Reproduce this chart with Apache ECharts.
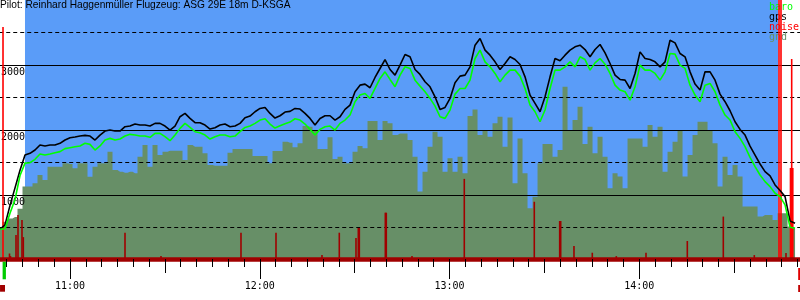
<!DOCTYPE html>
<html><head><meta charset="utf-8">
<script src="https://cdn.jsdelivr.net/npm/echarts@6/dist/echarts.min.js"></script>
<style>html,body{margin:0;padding:0;background:#fff}#c{width:800px;height:300px}</style>
</head><body><div id="c"></div>
<script>
// ---- data (times in minutes since midnight) ----
const titleText = 'Pilot: Reinhard Haggenmüller Flugzeug: ASG 29E 18m D-KSGA';
const startMin = 637.87;   // first logger sample
const stepMin = 1.5809;    // sampling interval (min)
const gps = [474,540,840,1110,1380,1615,1641,1692,1769,1754,1769,1769,1795,1846,1882,1892,1907,1917,1907,1846,1922,1984,1999,1984,1984,2051,2061,2092,2076,2076,2061,2102,2102,2061,1999,2061,2204,2255,2178,2112,
2112,2076,2015,2035,2076,2092,2051,2061,2102,2189,2214,2281,2332,2347,2255,2184,2219,2276,2286,2332,2322,2255,2178,2076,2178,2219,2219,2153,2204,2317,2383,2588,2690,2706,2650,2808,2946,3084,2931,2844,
2998,3162,3126,2931,2855,2742,2665,2511,2317,2347,2486,2726,2829,2844,2972,3305,3407,3228,3151,3049,2931,3023,3126,3084,3008,2818,2537,2409,2281,2511,2818,3100,3064,3151,3228,3279,3305,3238,3126,3238,
3315,3187,3023,2844,2778,2767,2639,2870,3202,3100,3084,3049,2972,3049,3381,3341,3177,3126,2895,2706,2614,2895,2895,2767,2552,2435,2296,2127,2009,1922,1753,1615,1477,1359,1293,1155,1068,975,600,566];
const baro = [474,480,720,930,1300,1490,1497,1549,1631,1615,1631,1651,1667,1713,1728,1743,1754,1795,1779,1692,1754,1846,1871,1846,1861,1907,1933,1922,1907,1907,1887,1948,1948,1897,1836,1922,2025,2102,2040,1974,
1958,1923,1861,1897,1923,1923,1897,1907,1974,2040,2061,2102,2153,2173,2092,2030,2066,2097,2122,2173,2153,2092,2010,1923,2010,2051,2061,1999,2102,2153,2230,2435,2537,2562,2486,2640,2793,2895,2778,2665,
2845,2973,2947,2767,2675,2588,2486,2368,2204,2179,2307,2552,2639,2639,2767,3100,3228,3049,2972,2870,2742,2844,2921,2921,2829,2639,2383,2281,2127,2307,2639,2921,2921,2972,3049,2972,3126,3084,2921,3033,
3100,3013,2870,2690,2614,2588,2460,2665,2998,2921,2921,2870,2767,2895,3177,3167,2998,2947,2690,2537,2435,2690,2716,2588,2383,2230,2153,1974,1871,1743,1580,1436,1308,1206,1129,1027,975,847,504,489];
const gnd = [474,590,640,660,790,1129,1129,1180,1308,1231,1436,1436,1436,1487,1477,1410,1487,1487,1282,1436,1487,1487,1667,1385,1359,1344,1359,1334,1590,1769,1436,1769,1615,1667,1682,1682,1682,1539,1769,1743,
1743,1641,1462,1451,1451,1451,1651,1707,1707,1707,1707,1600,1600,1600,1487,1677,1677,1820,1805,1733,1795,2061,2051,2000,1707,1707,1887,1554,1590,1487,1487,1667,1754,1718,2138,2138,1846,2138,2102,1923,
1948,1948,1846,1590,1052,1359,1743,1974,1897,1359,1564,1359,1590,1334,2214,2317,1923,2000,1897,2102,2204,1743,2194,1180,1871,1334,796,975,1487,1784,1784,1590,1692,2665,2000,2153,2358,1784,2051,1641,
1897,1590,1103,1334,1283,1103,1871,1871,1871,1743,2076,1897,2051,1359,1667,1820,1999,1283,1615,1923,2127,2127,1999,1795,1129,1590,1308,1462,1283,822,822,822,668,694,694,617,719,719,515,489];
const noiseTimes = [638.82,640.87,641.19,642.93,643.56,644.82,645.24,677.39,688.77,714.06,725.13,739.67,745.14,750.42,751.15,751.47,759.69,760.00,768.13,784.66,806.79,814.82,815.14,819.34,825.13,832.72,842.11,855.17,866.55,876.35,884.16,884.79,886.37,887.79,888.17,888.52];
const noiseValues = [896,25,15,96,173,154,88,105,15,105,105,19,105,85,123,123,182,182,15,312,224,150,150,54,28,15,28,73,167,19,1000,1000,27,354,773,354];
const taskStart = 645.77, taskEnd = 883.93;
// [time, row, kind]
const events = [[639.2,0,0],[638.7,1,1],[890.7,0,2],[890.7,1,3]];
const yLabelValues = [1000,2000,3000];

// ---- layout helpers ----
const X_MIN = 600, X_MAX = 900;
const pxPerMin = 3.16294;
const gridLeft = 70 - (660 - X_MIN) * pxPerMin;
const gridWidth = (X_MAX - X_MIN) * pxPerMin;
const FONT = 'DejaVu Sans Mono';
const tOf = i => startMin + i * stepMin;
const pairs = arr => arr.map((v, i) => [tOf(i), v]);
const fmtTime = v => { const h = Math.floor(v / 60), m = Math.round(v % 60); return h + ':' + String(m).padStart(2, '0'); };

const chart = echarts.init(document.getElementById('c'), null, {renderer: 'canvas'});
const baseX = (interval, tickLen, extra) => Object.assign({
  type: 'value', min: X_MIN, max: X_MAX, interval: interval, position: 'bottom', offset: -1, z: 6,
  axisLine: {show: false, onZero: false},
  axisTick: {show: true, length: tickLen, lineStyle: {color: '#000', width: 1}},
  axisLabel: {show: false}, splitLine: {show: false}
}, extra || {});

const evStyles = [
  {dx: -1.6, w: 3.3, dy: 1.7, h: 17.6, c: '#00cc00'},
  {dx: -2.6, w: 5, dy: 25, h: 6.7, c: '#a00000'},
  {dx: -1.5, w: 4, dy: 8, h: 12, c: '#e00000'},
  {dx: -1.5, w: 4, dy: 25, h: 7, c: '#c00000'}
];

chart.setOption({
  animation: false,
  backgroundColor: '#ffffff',
  title: {text: titleText, left: 0, top: 0, padding: 0,
    textStyle: {fontFamily: 'Liberation Sans', fontSize: 10.2, fontWeight: 'normal', color: '#000'}},
  legend: {orient: 'vertical', left: 764, top: 2, padding: 0, itemGap: 0, itemWidth: 0, itemHeight: 10,
    icon: 'none', selectedMode: false,
    textStyle: {fontFamily: FONT, fontSize: 10, lineHeight: 10, padding: 0},
    data: [
      {name: 'baro', textStyle: {color: '#00ff00'}},
      {name: 'gps', textStyle: {color: '#000000'}},
      {name: 'noise', textStyle: {color: '#ff0000'}},
      {name: 'gnd', textStyle: {color: '#678f67'}}
    ]},
  grid: {left: gridLeft, top: 0, width: gridWidth, height: 260, show: false,
    containLabel: false, outerBoundsMode: 'none'},
  xAxis: [
    baseX(5, 8, {axisLine: {show: true, onZero: false, lineStyle: {color: '#a00000', width: 4.6}}}),
    baseX(30, 14),
    baseX(60, 20, {axisLabel: {show: true, margin: 22, fontFamily: FONT, fontSize: 10, color: '#000', formatter: fmtTime}})
  ],
  yAxis: [
    {type: 'value', min: 0, max: 4000, interval: 1000, position: 'left', offset: gridLeft, z: 3,
      axisLine: {show: false, onZero: false}, axisTick: {show: false},
      axisLabel: {inside: true, margin: 1, verticalAlign: 'top', lineHeight: 14, fontFamily: FONT, fontSize: 10, color: '#000',
        showMinLabel: false, showMaxLabel: false,
        formatter: v => yLabelValues.includes(v) ? String(v) : ''},
      splitLine: {show: true, showMinLine: false, showMaxLine: false, lineStyle: {color: '#000', width: 1}}},
    {type: 'value', min: 0, max: 4000, interval: 500, position: 'left', z: 3,
      axisLine: {show: false, onZero: false}, axisTick: {show: false}, axisLabel: {show: false},
      splitLine: {show: true, showMinLine: false, showMaxLine: false, lineStyle: {color: '#000', width: 1, type: [4, 3]}}},
    {type: 'value', min: 0, max: 1000, show: false}
  ],
  series: [
    {name: 'gnd', type: 'line', step: 'middle', symbol: 'none', data: pairs(gnd), z: 2,
      lineStyle: {width: 0, opacity: 0}, itemStyle: {color: '#678f67'},
      areaStyle: {color: '#678f67', opacity: 1},
      markArea: {silent: true, itemStyle: {color: '#5a9cf8'}, data: [[{xAxis: taskStart}, {xAxis: taskEnd}]]}},
    {name: 'noise', type: 'bar', yAxisIndex: 2, barWidth: 1.6, z: 4,
      data: noiseTimes.map((t, i) => [t, noiseValues[i]]),
      itemStyle: {color: p => p.value[1] > 330 ? '#ff0000' : '#a00000'}},
    {name: 'gps', type: 'line', symbol: 'none', data: pairs(gps), z: 5,
      lineStyle: {color: '#000000', width: 1.6}, itemStyle: {color: '#000000'}},
    {name: 'baro', type: 'line', symbol: 'none', data: pairs(baro), z: 5,
      lineStyle: {color: '#00ff00', width: 1.6}, itemStyle: {color: '#00ff00'}},
    {name: 'events', type: 'custom', clip: false, silent: true, z: 7, data: events,
      renderItem: (params, api) => {
        const x = api.coord([api.value(0), 0])[0];
        const y0 = params.coordSys.y + params.coordSys.height;
        const s = evStyles[api.value(2)];
        return {type: 'rect', shape: {x: x + s.dx, y: y0 + s.dy, width: s.w, height: s.h}, style: {fill: s.c}};
      }}
  ]
});
</script></body></html>
